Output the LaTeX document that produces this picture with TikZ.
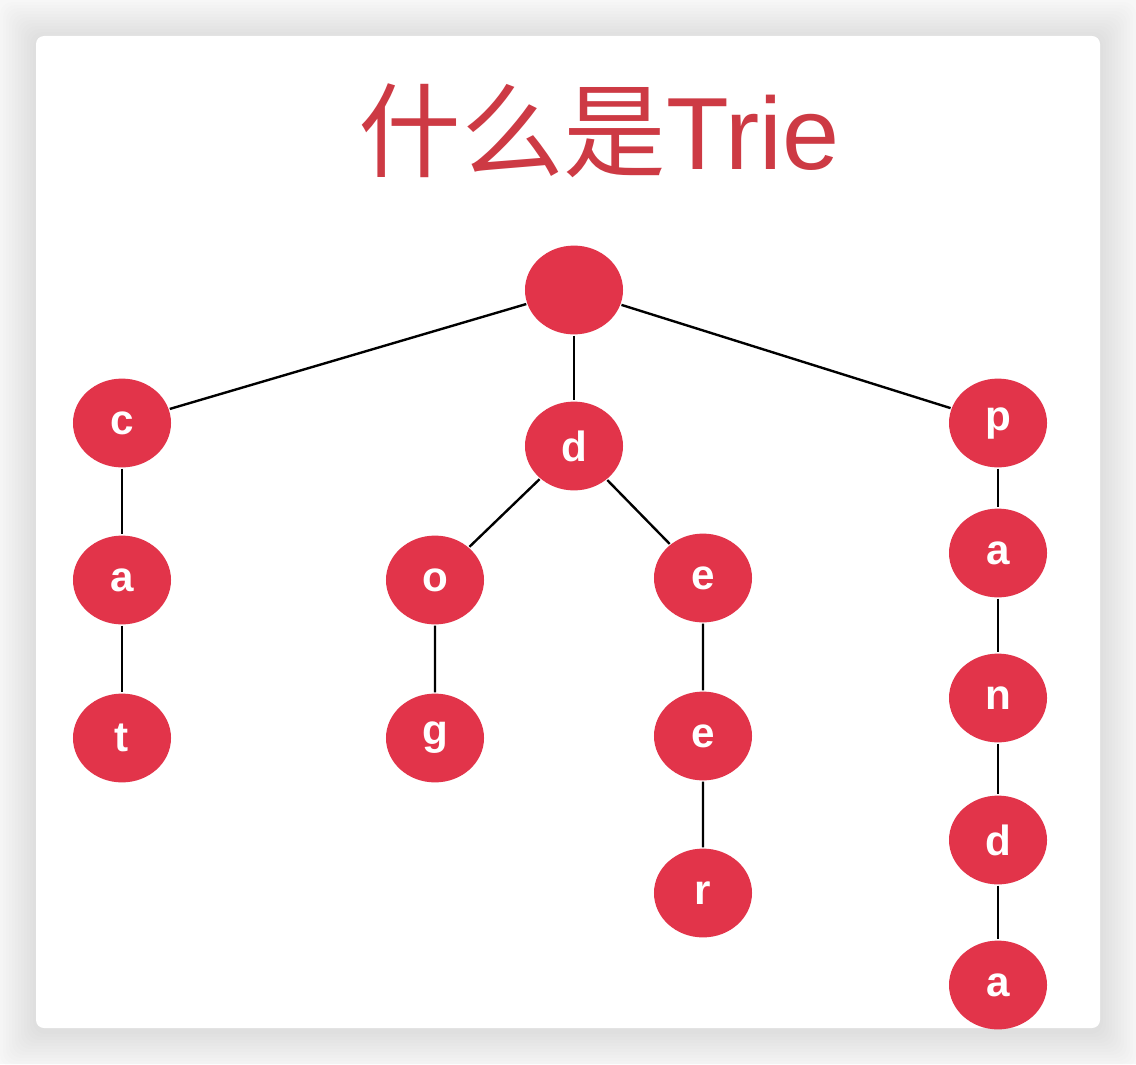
\documentclass[tikz,border=0pt]{standalone}
\usepackage{fontspec}
\setmainfont{Liberation Sans}
\newfontfamily\cjk{Noto Sans CJK SC}
\usetikzlibrary{shapes.geometric}

\definecolor{nodered}{RGB}{226,52,74}
\definecolor{titlered}{RGB}{205,58,68}
\definecolor{pagegray}{RGB}{247,247,247}

\begin{document}
\begin{tikzpicture}[x=0.025cm, y=-0.025cm, line width=1.7pt,
  trienode/.style={ellipse, fill=nodered, text=white, inner sep=0pt,
    minimum width=2.45cm, minimum height=2.22cm,
    font=\fontsize{30}{32}\selectfont\bfseries}]
  % 画布 1136x1064, 坐标按像素, y 向下
  \useasboundingbox (0,0) rectangle (1136,1064);
  \fill[pagegray] (0,0) rectangle (1136,1064);
  % 卡片阴影
  \foreach \i in {1,...,12}
    \fill[black, opacity=0.009, rounded corners=0.3cm]
      ({36-3*\i},{38-3*\i}) rectangle ({1100+3*\i},{1031+3*\i});
  \fill[white, rounded corners=0.2cm] (36,36) rectangle (1100,1028);
  % 标题
  \node[text=titlered, anchor=base, inner sep=0pt,
        font=\fontsize{73}{84}\selectfont] (title) at (599,170) {{\cjk 什么是}Trie};
  % 结点坐标
  \coordinate (R) at (574,290);
  \coordinate (C) at (122,423);
  \coordinate (D) at (574,446);
  \coordinate (P) at (998,423);
  \node[trienode] (root) at (R) {};
  \node[trienode] (c) at (C) {c};
  \node[trienode] (ca) at (122,580) {a};
  \node[trienode] (cat) at (122,738) {t};
  \node[trienode] (d) at (D) {d};
  \node[trienode] (do) at (435,580) {o};
  \node[trienode] (dog) at (435,738) {g};
  \node[trienode] (de) at (703,578) {e};
  \node[trienode] (dee) at (703,736) {e};
  \node[trienode] (deer) at (703,893) {r};
  \node[trienode] (p) at (P) {p};
  \node[trienode] (pa) at (998,553) {a};
  \node[trienode] (pan) at (998,698) {n};
  \node[trienode] (pand) at (998,840) {d};
  \node[trienode] (panda) at (998,985) {a};
  % 连线
  \draw (root)--(c);
  \draw (root)--(d);
  \draw (root)--(p);
  \draw (c)--(ca)--(cat);
  \draw (d)--(do)--(dog);
  \draw (d)--(de)--(dee)--(deer);
  \draw (p)--(pa)--(pan)--(pand)--(panda);
\end{tikzpicture}
\end{document}
